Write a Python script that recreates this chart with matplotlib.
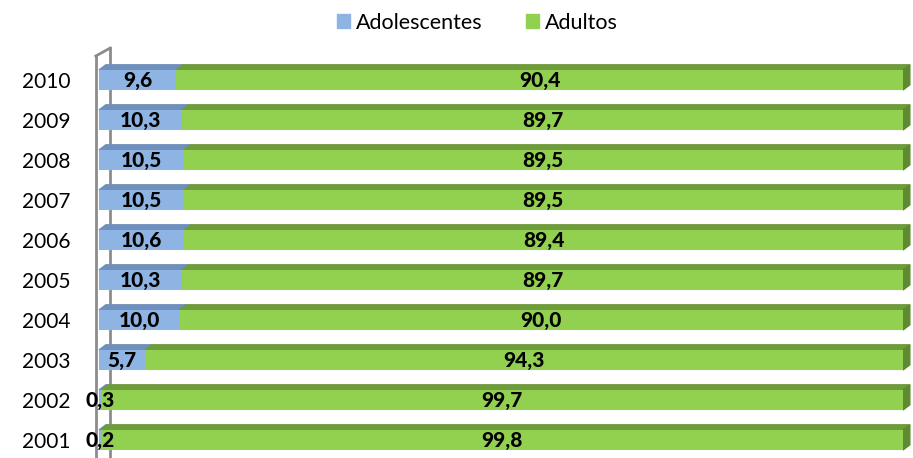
import matplotlib
matplotlib.use("Agg")
import matplotlib.pyplot as plt
from matplotlib.patches import Polygon, Patch
from matplotlib.lines import Line2D

years = ["2001", "2002", "2003", "2004", "2005", "2006", "2007", "2008", "2009", "2010"]
adolescentes = [0.2, 0.3, 5.7, 10.0, 10.3, 10.6, 10.5, 10.5, 10.3, 9.6]
adultos = [99.8, 99.7, 94.3, 90.0, 89.7, 89.4, 89.5, 89.5, 89.7, 90.4]
series_names = ["Adolescentes", "Adultos"]

plt.rcParams['font.family'] = ['Lato', 'DejaVu Sans']

blue = "#8EB4E3"; blue_top = "#6F8FBC"
green = "#92D050"; green_top = "#6E9B3C"; green_side = "#5F8A2F"

fig = plt.figure(figsize=(9.13, 4.58), dpi=100)
ax = fig.add_axes([99/913, 0, 804/913, 398/458])
ax.set_xlim(0, 100)
ax.set_ylim(-0.45, 9.5)
ax.axis("off")

h = 0.5
dx, dy = 0.85, 0.13
ypos = list(range(len(years)))

ax.barh(ypos, adolescentes, height=h, color=blue, zorder=3)
ax.barh(ypos, adultos, left=adolescentes, height=h, color=green, zorder=3)

for y, a, b in zip(ypos, adolescentes, adultos):
    top = y + h / 2
    ax.add_patch(Polygon([(0, top), (a, top), (a + dx, top + dy), (dx, top + dy)],
                         closed=True, color=blue_top, zorder=2, clip_on=False))
    ax.add_patch(Polygon([(a, top), (a + b, top), (a + b + dx, top + dy), (a + dx, top + dy)],
                         closed=True, color=green_top, zorder=2, clip_on=False))
    bot = y - h / 2
    ax.add_patch(Polygon([(a + b, bot), (a + b, top), (a + b + dx, top + dy), (a + b + dx, bot + dy)],
                         closed=True, color=green_side, zorder=2, clip_on=False))
    ax.text(a / 2, y, f"{a:.1f}".replace(".", ","), ha="center", va="center",
            fontsize=15, fontweight="black", color="black", zorder=5)
    ax.text(a + b / 2, y, f"{b:.1f}".replace(".", ","), ha="center", va="center",
            fontsize=15, fontweight="black", color="black", zorder=5)
    ax.text(-3.6, y - 0.05, years[y], ha="right", va="center", fontsize=15, color="black")

wc = "#8C8C8C"
fx = -0.4; bx = 1.4
ax.add_line(Line2D([fx, fx], [-0.6, 9.6], color=wc, lw=2, zorder=1, clip_on=False))
ax.add_line(Line2D([fx, bx], [9.6, 9.8], color=wc, lw=2, zorder=1, clip_on=False))
ax.add_line(Line2D([bx, bx], [-0.5, 9.8], color=wc, lw=2, zorder=1, clip_on=False))

handles = [Patch(color=blue), Patch(color=green)]
fig.legend(handles, series_names, loc="upper center", bbox_to_anchor=(0.523, 1.015),
           ncol=2, frameon=False, fontsize=15.5, handlelength=0.6, handleheight=0.6,
           handletextpad=0.3, columnspacing=2.0)

fig.savefig("out.png", dpi=100)
